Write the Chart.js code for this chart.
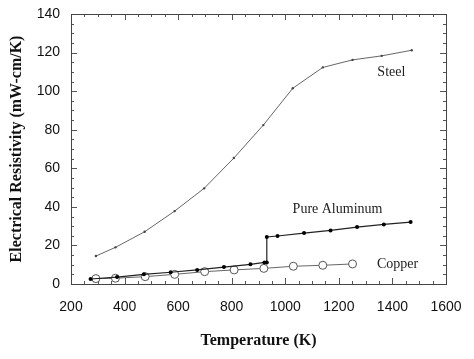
<!DOCTYPE html>
<html>
<head>
<meta charset="utf-8">
<script src="https://cdn.jsdelivr.net/npm/chart.js@4"></script>
<style>
  html, body { margin: 0; padding: 0; background: #fff; }
  #wrap { width: 474px; height: 359px; }
</style>
</head>
<body>
<div id="wrap"><canvas id="chart" width="474" height="359"></canvas></div>
<script>
// values
const steelT = [293, 366, 475, 587, 697, 808, 918, 1028, 1140, 1251, 1360, 1472];
const steelR = [14.5, 19.0, 27.1, 37.8, 49.6, 65.3, 82.4, 101.5, 112.3, 116.2, 118.3, 121.2];

const aluT = [273, 372, 472, 572, 671, 771, 870, 922, 931, 931, 971, 1070, 1169, 1268, 1368, 1468];
const aluR = [2.6, 3.6, 5.0, 6.1, 7.3, 8.8, 10.2, 11.2, 11.2, 24.4, 24.9, 26.4, 27.8, 29.5, 30.9, 32.1];

const copperT = [293, 366, 477, 587, 699, 809, 920, 1030, 1140, 1251];
const copperR = [2.8, 3.0, 3.8, 5.0, 6.4, 7.3, 8.1, 9.2, 9.7, 10.4];

const xTicks = [200, 400, 600, 800, 1000, 1200, 1400, 1600];
const yTicks = [0, 20, 40, 60, 80, 100, 120, 140];

const seriesLabels = [
  { text: 'Steel', x: 1396, y: 109.5 },
  { text: 'Pure Aluminum', x: 1195, y: 38.9 },
  { text: 'Copper', x: 1419, y: 10.4 }
];

const pts = (xs, ys) => xs.map((x, i) => ({ x: x, y: ys[i] }));

// frame, inner ticks and curve labels
const decor = {
  id: 'decor',
  afterDatasetsDraw(chart) {
    const ctx = chart.ctx;
    const a = chart.chartArea;
    const xs = chart.scales.x, ys = chart.scales.y;
    ctx.save();
    ctx.strokeStyle = '#555';
    ctx.lineWidth = 1;
    ctx.beginPath();
    for (let v = 200; v <= 1600; v += 50) {
      const px = Math.round(xs.getPixelForValue(v)) + 0.5;
      const len = v % 200 === 0 ? 6 : 3;
      ctx.moveTo(px, a.bottom); ctx.lineTo(px, a.bottom - len);
      ctx.moveTo(px, a.top); ctx.lineTo(px, a.top + len);
    }
    for (let v = 0; v <= 140; v += 5) {
      const py = Math.round(ys.getPixelForValue(v)) + 0.5;
      const len = v % 20 === 0 ? 6 : 3;
      ctx.moveTo(a.left, py); ctx.lineTo(a.left + len, py);
      ctx.moveTo(a.right, py); ctx.lineTo(a.right - len, py);
    }
    ctx.stroke();
    ctx.strokeStyle = '#444';
    ctx.strokeRect(Math.round(a.left) + 0.5, Math.round(a.top) + 0.5,
      Math.round(a.right - a.left), Math.round(a.bottom - a.top));

    ctx.fillStyle = '#222';
    ctx.font = '14px "Liberation Serif", "Times New Roman", serif';
    ctx.textAlign = 'center';
    ctx.textBaseline = 'middle';
    seriesLabels.forEach(l => {
      ctx.fillText(l.text, xs.getPixelForValue(l.x), ys.getPixelForValue(l.y));
    });
    ctx.restore();
  }
};

new Chart(document.getElementById('chart').getContext('2d'), {
  type: 'scatter',
  data: {
    datasets: [
      {
        label: 'Steel',
        data: pts(steelT, steelR),
        showLine: true,
        borderColor: '#666',
        borderWidth: 1,
        pointRadius: 1.2,
        pointBackgroundColor: '#444',
        pointBorderWidth: 0
      },
      {
        label: 'Pure Aluminum',
        data: pts(aluT, aluR),
        showLine: true,
        borderColor: '#222',
        borderWidth: 1.2,
        pointRadius: 2,
        pointBackgroundColor: '#000',
        pointBorderWidth: 0
      },
      {
        label: 'Copper',
        data: pts(copperT, copperR),
        showLine: true,
        borderColor: '#666',
        borderWidth: 1,
        pointRadius: 4,
        pointBackgroundColor: '#fff',
        pointBorderColor: '#555',
        pointBorderWidth: 1
      }
    ]
  },
  options: {
    responsive: false,
    animation: false,
    layout: { padding: { top: 14, right: 28, left: 0, bottom: 0 } },
    plugins: {
      legend: { display: false },
      tooltip: { enabled: false }
    },
    scales: {
      x: {
        type: 'linear',
        min: 200,
        max: 1600,
        afterFit(s) { s.height = 75; s.paddingLeft = 0; s.paddingRight = 0; },
        afterBuildTicks(s) { s.ticks = xTicks.map(v => ({ value: v })); },
        grid: { drawOnChartArea: false, drawTicks: false },
        border: { display: false },
        ticks: {
          padding: 15,
          color: '#111',
          callback: v => String(v),
          font: { family: '"Liberation Sans", Arial, sans-serif', size: 14 }
        },
        title: {
          display: true,
          text: 'Temperature (K)',
          color: '#111',
          padding: { top: 0, bottom: 9 },
          font: { family: '"Liberation Serif", "Times New Roman", serif', size: 16, weight: 'bold' }
        }
      },
      y: {
        min: 0,
        max: 140,
        afterFit(s) { s.width = 71; s.paddingTop = 0; s.paddingBottom = 0; },
        afterBuildTicks(s) { s.ticks = yTicks.map(v => ({ value: v })); },
        grid: { drawOnChartArea: false, drawTicks: false },
        border: { display: false },
        ticks: {
          padding: 11,
          color: '#111',
          callback: v => String(v),
          font: { family: '"Liberation Sans", Arial, sans-serif', size: 14 }
        },
        title: {
          display: true,
          text: 'Electrical Resistivity (mW-cm/K)',
          color: '#111',
          padding: { top: 7, bottom: 0 },
          font: { family: '"Liberation Serif", "Times New Roman", serif', size: 16, weight: 'bold' }
        }
      }
    }
  },
  plugins: [decor]
});
</script>
</body>
</html>
